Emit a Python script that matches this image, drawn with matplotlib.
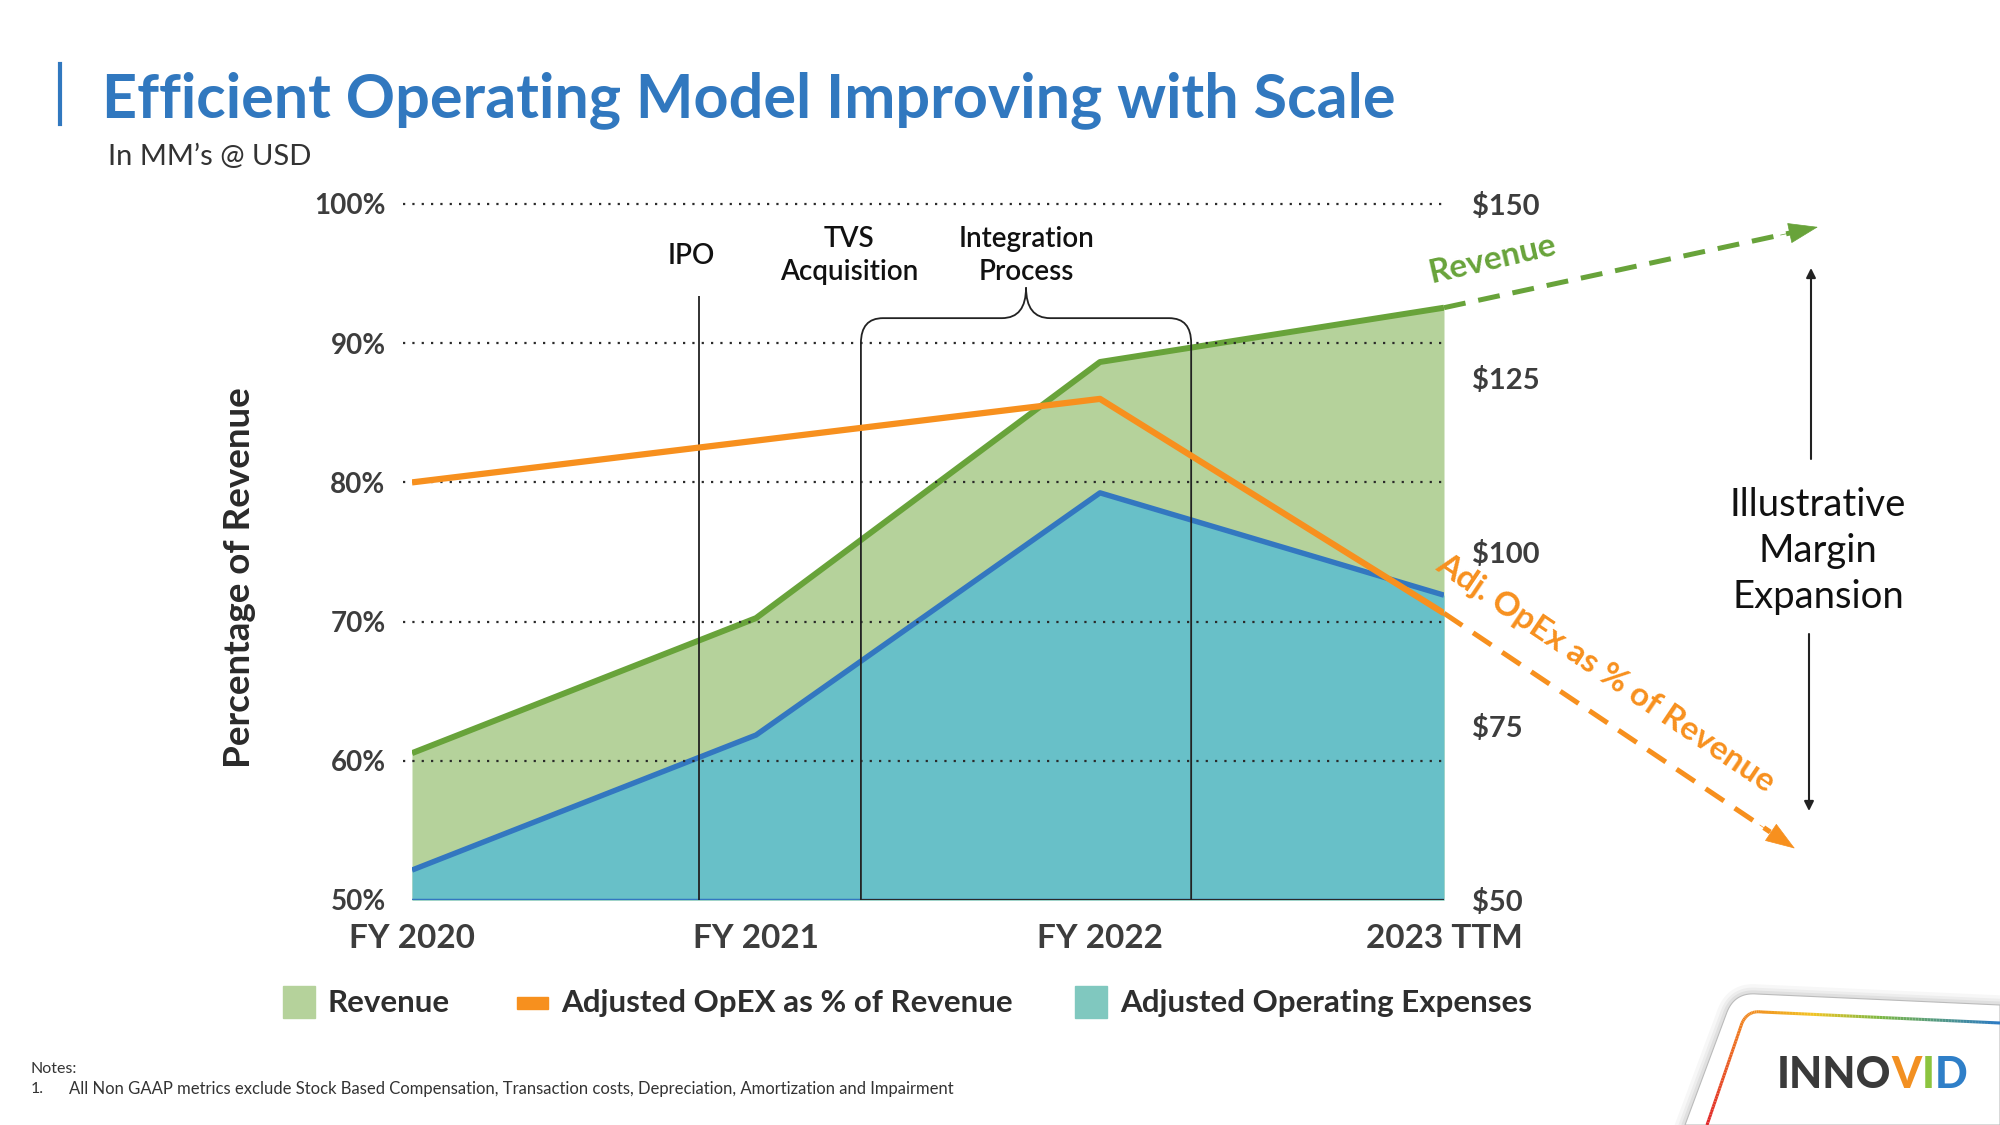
import matplotlib
matplotlib.use('Agg')
import matplotlib.pyplot as plt
from matplotlib.path import Path
from matplotlib.patches import PathPatch, Rectangle, Polygon, FancyArrowPatch
from matplotlib.lines import Line2D
from matplotlib.collections import LineCollection
from matplotlib.colors import LinearSegmentedColormap
import numpy as np

# ---------------- data ----------------
categories = ['FY 2020', 'FY 2021', 'FY 2022', '2023 TTM']
revenue_usd = [71.1, 90.5, 127.3, 135.1]
adj_opex_usd = [54.3, 73.7, 108.5, 93.8]
opex_pct_revenue = [80.0, 83.0, 86.0, 70.6]

pct_ticks = [50, 60, 70, 80, 90, 100]
pct_labels = ['50%', '60%', '70%', '80%', '90%', '100%']
usd_ticks = [50, 75, 100, 125, 150]
usd_labels = [r'\$50', r'\$75', r'\$100', r'\$125', r'\$150']

ipo_x = 0.834
tvs_x = 1.305
integration_end_x = 2.265
revenue_trend_target = [4.087, 146.7]      # (x, $)
opex_pct_trend_target = [4.02, 53.7]       # (x, %)

legend_labels = ['Revenue', 'Adjusted OpEX as % of Revenue', 'Adjusted Operating Expenses']

# ---------------- style ----------------
BLUE_T = '#3178BF'
GREEN_FILL = '#B5D29B'
GREEN_LINE = '#68A33A'
TEAL_FILL = '#68C0C8'
BLUE_LINE = '#3377C0'
ORANGE = '#F7901E'
TICK = '#3D3D3D'
DARK = '#222222'

plt.rcParams['font.family'] = ['Lato', 'DejaVu Sans']

fig = plt.figure(figsize=(20, 11.25), dpi=100)
W, H = 2000, 1125

def fx(px):
    return px / W

def fy(py):
    return 1 - py / H

# title
fig.text(fx(102), fy(117), 'Efficient Operating Model Improving with Scale', color=BLUE_T,
         fontsize=44, fontweight='bold', ha='left', va='baseline')
fig.add_artist(Line2D([fx(60), fx(60)], [fy(64), fy(124)], color=BLUE_T, lw=3,
                      transform=fig.transFigure))
fig.text(fx(108), fy(165), 'In MM’s @ USD', color='#333333', fontsize=21,
         fontweight='normal', ha='left', va='baseline')

# axes
x = np.arange(len(categories))
ax_usd = fig.add_axes([fx(412), fy(900), fx(1444) - fx(412), fy(204) - fy(900)])
ax = ax_usd.twinx()
ax.set_zorder(ax_usd.get_zorder() + 1)
ax.patch.set_visible(False)

ax_usd.set_xlim(0, 3)
ax_usd.set_ylim(50, 150)
ax.set_ylim(50, 100)

ax_usd.fill_between(x, revenue_usd, 50, color=GREEN_FILL, lw=0, zorder=1)
ax_usd.fill_between(x, adj_opex_usd, 50, color=TEAL_FILL, lw=0, zorder=2)
ax_usd.plot(x, revenue_usd, color=GREEN_LINE, lw=4.3, zorder=3, solid_capstyle='butt')
ax_usd.plot(x, adj_opex_usd, color=BLUE_LINE, lw=3.9, zorder=3, solid_capstyle='butt')
ax_usd.axhline(50, color=BLUE_LINE, lw=2.5, zorder=4)
ax_usd.axhline(50, xmin=tvs_x / 3, xmax=1, color='#2a2a2a', lw=1.5, zorder=5)

ax.hlines(pct_ticks[1:], -0.026, 3.012, colors='#2a2a2a', linestyles=(0, (1, 3.2)),
          lw=1.6, clip_on=False, zorder=2)
ax.plot(x, opex_pct_revenue, color=ORANGE, lw=4.5, zorder=6, solid_capstyle='butt')

# event lines & brace
ax.vlines(ipo_x, 50, 93.4, color=DARK, lw=1.3, zorder=4)
xm = (tvs_x + integration_end_x) / 2
yh, yc, ytip = 91.8, 90.0, 94.0
rx, mrx = 0.064, 0.07
verts = [(tvs_x, 50), (tvs_x, yc), (tvs_x, yh), (tvs_x + rx, yh),
         (xm - mrx, yh), (xm, yh), (xm, ytip),
         (xm, yh), (xm + mrx, yh),
         (integration_end_x - rx, yh), (integration_end_x, yh), (integration_end_x, yc),
         (integration_end_x, 50)]
codes = [Path.MOVETO, Path.LINETO, Path.CURVE3, Path.CURVE3,
         Path.LINETO, Path.CURVE3, Path.CURVE3,
         Path.CURVE3, Path.CURVE3,
         Path.LINETO, Path.CURVE3, Path.CURVE3,
         Path.LINETO]
ax.add_patch(PathPatch(Path(verts, codes), fill=False, edgecolor=DARK, lw=1.3,
                       clip_on=False, zorder=4))

ax.text(0.811, 96.3, 'IPO', ha='center', va='center', fontsize=20, color='#111111',
        fontweight='semibold', clip_on=False)
ax.text(1.27, 96.3, 'TVS\nAcquisition', ha='center', va='center', fontsize=20,
        color='#111111', fontweight='semibold', linespacing=1.3, clip_on=False)
ax.text(xm, 96.3, 'Integration\nProcess', ha='center', va='center', fontsize=20,
        color='#111111', fontweight='semibold', linespacing=1.3, clip_on=False)

# ticks
for a in (ax, ax_usd):
    for s in a.spines.values():
        s.set_visible(False)
ax_usd.yaxis.tick_right()
ax.yaxis.tick_left()
ax.set_yticks(pct_ticks, pct_labels, fontsize=20, fontweight='bold', color=TICK)
ax.tick_params(axis='y', length=0, pad=19)
ax_usd.set_yticks(usd_ticks, usd_labels, fontsize=21, fontweight='bold', color=TICK)
ax_usd.tick_params(axis='y', length=0, pad=20)
ax_usd.set_xticks(x, categories, fontsize=24, fontweight='bold', color=TICK)
ax_usd.tick_params(axis='x', length=0, pad=17)

fig.text(fx(240), fy(578), 'Percentage of Revenue', rotation=90, ha='center', va='center',
         fontsize=26.5, fontweight='bold', color='#2a2a2a')

# trend arrows
def trend(axis, start, end, color):
    start = np.array(start, float)
    end = np.array(end, float)
    stop = start + 0.93 * (end - start)
    axis.plot([start[0], stop[0]], [start[1], stop[1]], color=color, lw=3.6,
              linestyle=(0, (4.4, 2.6)), clip_on=False, zorder=7, solid_capstyle='butt',
              dash_capstyle='butt')
    axis.annotate('', xy=tuple(end), xytext=tuple(start + 0.9 * (end - start)),
                  arrowprops=dict(arrowstyle='-|>,head_length=1.0,head_width=0.35',
                                  color=color, lw=0.5, shrinkA=0, shrinkB=0,
                                  mutation_scale=20),
                  annotation_clip=False, zorder=7)

trend(ax_usd, (x[-1], revenue_usd[-1]), revenue_trend_target, GREEN_LINE)
trend(ax, (x[-1], opex_pct_revenue[-1]), opex_pct_trend_target, ORANGE)

fig.text(fx(1492), fy(259), 'Revenue', rotation=13, rotation_mode='anchor', ha='center',
         va='center', fontsize=24, fontweight='bold', color=GREEN_LINE)
fig.text(fx(1606), fy(673), 'Adj. OpEx as % of Revenue', rotation=-34, rotation_mode='anchor',
         ha='center', va='center', fontsize=24, fontweight='bold', color=ORANGE)

# illustrative margin expansion
fig.text(fx(1818), fy(551), 'Illustrative\nMargin\nExpansion', ha='center', va='center',
         fontsize=27.5, color='#111111', linespacing=1.35)
for (x0, y0, x1, y1) in [(1811, 459, 1811, 268), (1809, 634, 1809, 811)]:
    fig.add_artist(FancyArrowPatch((fx(x0), fy(y0)), (fx(x1), fy(y1)),
                                   transform=fig.transFigure, arrowstyle='-|>',
                                   mutation_scale=14, lw=1.5, color='#222222',
                                   shrinkA=0, shrinkB=0))

# legend
fig.add_artist(Rectangle((fx(283), fy(1018)), fx(32), 32 / H, color=GREEN_FILL,
                         transform=fig.transFigure))
fig.add_artist(Rectangle((fx(517), fy(1009)), fx(31), 12 / H, color=ORANGE,
                         transform=fig.transFigure))
fig.add_artist(Rectangle((fx(1075), fy(1018)), fx(32), 32 / H, color='#80C8BF',
                         transform=fig.transFigure))
for lbl, px in zip(legend_labels, [328, 561, 1120]):
    fig.text(fx(px), fy(1003), lbl, ha='left', va='center', fontsize=22.5,
             fontweight='bold', color='#2e2e2e')

# notes
fig.text(fx(31), fy(1069), 'Notes:', fontsize=11.5, color='#333333', va='center')
fig.text(fx(31), fy(1089), '1.', fontsize=11.5, color='#333333', va='center')
fig.text(fx(69), fy(1089), 'All Non GAAP metrics exclude Stock Based Compensation, '
         'Transaction costs, Depreciation, Amortization and Impairment',
         fontsize=12, color='#333333', va='center')

# logo card
def qcurve(p0, c, p1, n=20):
    t = np.linspace(0, 1, n)[:, None]
    p0, c, p1 = map(np.array, (p0, c, p1))
    return (1 - t) ** 2 * p0 + 2 * (1 - t) * t * c + t ** 2 * p1

outer = np.vstack([[(1685, 1125)], [(1727, 1012)], qcurve((1727, 1012), (1735, 992), (1757, 994)),
                   [(2000, 1005)], [(2000, 1125)]])
for k, a in zip([14, 9, 5], [0.03, 0.04, 0.05]):
    fig.add_artist(Polygon([(fx(p[0]), fy(p[1])) for p in outer], closed=True,
                           transform=fig.transFigure, facecolor='none',
                           edgecolor='#000000', lw=k, alpha=a))
fig.add_artist(Polygon([(fx(p[0]), fy(p[1])) for p in outer], closed=True,
                       transform=fig.transFigure, facecolor='white', edgecolor='#BBBBBB', lw=0.8))
left = np.linspace([1707, 1125], [1742, 1023], 40)
corner = qcurve((1742, 1023), (1748, 1010), (1762, 1012), 15)
top = np.linspace([1762, 1012], [2000, 1023], 80)
gpts = np.vstack([left, corner, top])
segs = np.stack([gpts[:-1], gpts[1:]], axis=1)
seglen = np.hypot(*(segs[:, 1] - segs[:, 0]).T)
frac = np.cumsum(seglen) / seglen.sum()
cmap = LinearSegmentedColormap.from_list('logo', [(0, '#E0262A'), (0.3, '#F08220'),
                                                  (0.5, '#F2C425'), (0.68, '#7DB843'),
                                                  (1.0, '#2C7BC4')])
segs_fig = np.stack([segs[..., 0] / W, 1 - segs[..., 1] / H], axis=-1)
fig.add_artist(LineCollection(segs_fig, colors=cmap(frac), lw=2.2, transform=fig.transFigure))

t_inno = fig.text(fx(1777), fy(1075), 'INNO', fontsize=31, fontweight='black',
                  color='#3A3A3A', ha='left', va='center')
fig.canvas.draw()
r = fig.canvas.get_renderer()
xpos = t_inno.get_window_extent(r).x1 / W
for ch, col in [('V', '#F29022'), ('I', '#8CC43F'), ('D', '#2F7FC8')]:
    t = fig.text(xpos, fy(1075), ch, fontsize=31, fontweight='black', color=col,
                 ha='left', va='center')
    fig.canvas.draw()
    xpos = t.get_window_extent(r).x1 / W

fig.savefig('out.png', dpi=100)
